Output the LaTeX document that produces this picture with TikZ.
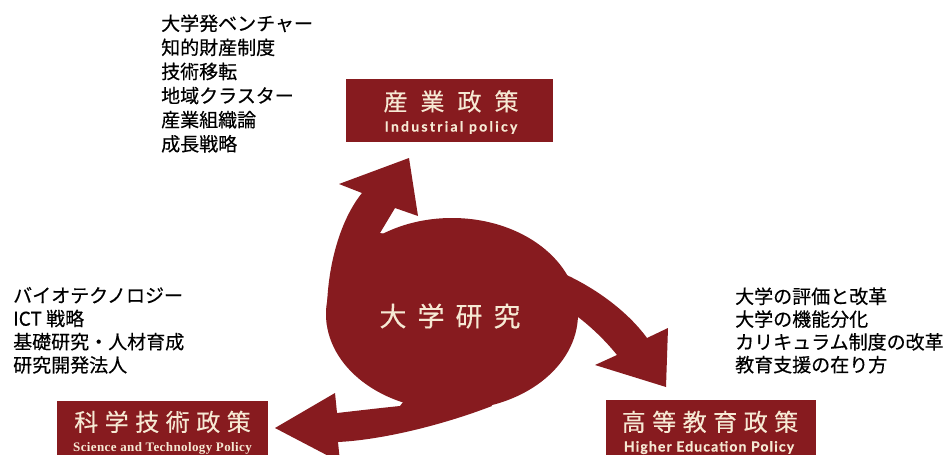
\documentclass[tikz,border=0pt]{standalone}
\usepackage{fontspec}
\setmainfont{Liberation Sans}
\newfontfamily\jp[FakeBold=0.4]{Noto Sans CJK JP}
\newfontfamily\jpbox[FakeBold=0.3]{Noto Sans CJK JP}
\newfontfamily\ensans[LetterSpace=8, FakeBold=0.6]{Lato}
\newfontfamily\ensanswide[LetterSpace=16, FakeBold=0.6]{Lato}
\newfontfamily\enserif[LetterSpace=3]{Liberation Serif}
\definecolor{univred}{RGB}{135,27,31}
\definecolor{cream}{RGB}{246,233,212}
\begin{document}
\begin{tikzpicture}[x=1pt,y=-1pt,
  redfill/.style={fill=univred, draw=none},
  boxst/.style={fill=univred, draw=none, inner sep=0pt},
  jplist/.style={anchor=base west, inner sep=0pt, font=\jp\fontsize{19}{19}\selectfont},
  boxjp/.style={anchor=base, inner sep=0pt, text=cream, font=\jpbox\fontsize{24}{24}\selectfont},
  boxen/.style={anchor=base, inner sep=0pt, text=cream, font=\ensans\bfseries\fontsize{14}{14}\selectfont},
  boxenwide/.style={anchor=base, inner sep=0pt, text=cream, font=\ensanswide\bfseries\fontsize{14}{14}\selectfont},
  boxenserif/.style={anchor=base, inner sep=0pt, text=cream, font=\enserif\bfseries\fontsize{13}{13}\selectfont}]
\clip (0,0) rectangle (945,455);
\fill[white] (0,0) rectangle (945,455);

% central disc
\fill[redfill] (452,314) ellipse [x radius=126, y radius=96];

% arrow up (to industrial policy)
\fill[redfill] (400,300) -- (327,325) .. controls (325,270) and (340,220) .. (362,193)
  -- (339,184) -- (409,158) -- (418,216) -- (395,208) -- (380,233) -- (420,240) -- cycle;

% arrow right (to higher education policy)
\fill[redfill] (540,310) -- (560,272) .. controls (590,285) and (625,308) .. (647,338)
  -- (668,328) -- (666,387) -- (595,365) -- (617,355) .. controls (605,340) and (590,326) .. (578,317) -- cycle;

% arrow left (to science and technology policy)
\fill[redfill] (420,380) -- (400,406) .. controls (380,408) and (355,411) .. (337,413)
  -- (335,393) -- (275,428) -- (340,462) -- (338,442) .. controls (380,440) and (440,426) .. (492,406) -- (480,380) -- cycle;

\node[text=cream, inner sep=0pt, font=\jpbox\fontsize{27}{27}\selectfont] (core) at (450,316)
  {大\hspace{11pt}学\hspace{11pt}研\hspace{11pt}究};

% boxes
\node[boxst, minimum width=207pt, minimum height=63pt] (ind) at (449.5,110.5) {};
\node[boxjp] (indjp) at (451,110.5) {産\hspace{13pt}業\hspace{13pt}政\hspace{13pt}策};
\node[boxenwide] (inden) at (451,131.5) {Industrial policy};

\node[boxst, minimum width=211pt, minimum height=59pt] (sci) at (162.5,430.5) {};
\node[boxjp] (scijp) at (162.5,431) {科\hspace{6.5pt}学\hspace{6.5pt}技\hspace{6.5pt}術\hspace{6.5pt}政\hspace{6.5pt}策};
\node[boxenserif] (scien) at (162.5,451.5) {Science and Technology Policy};

\node[boxst, minimum width=210pt, minimum height=60pt] (hig) at (711,430) {};
\node[boxjp] (higjp) at (710,431) {高\hspace{6.5pt}等\hspace{6.5pt}教\hspace{6.5pt}育\hspace{6.5pt}政\hspace{6.5pt}策};
\node[boxen] (higen) at (709,451.5) {Higher Education Policy};

% lists
\node[jplist] (t1) at (161,30.5) {大学発ベンチャー};
\node[jplist] (t2) at (161,54.6) {知的財産制度};
\node[jplist] (t3) at (161,78.7) {技術移転};
\node[jplist] (t4) at (161,102.8) {地域クラスター};
\node[jplist] (t5) at (161,126.9) {産業組織論};
\node[jplist] (t6) at (161,151) {成長戦略};

\node[jplist] (l1) at (13,302.5) {バイオテクノロジー};
\node[jplist] (l2) at (13,325.7) {ICT 戦略};
\node[jplist] (l3) at (13,348.9) {基礎研究・人材育成};
\node[jplist] (l4) at (13,372.1) {研究開発法人};

\node[jplist] (r1) at (735,303.5) {大学の評価と改革};
\node[jplist] (r2) at (735,326.3) {大学の機能分化};
\node[jplist] (r3) at (735,349.1) {カリキュラム制度の改革};
\node[jplist] (r4) at (735,371.9) {教育支援の在り方};
\end{tikzpicture}
\end{document}
